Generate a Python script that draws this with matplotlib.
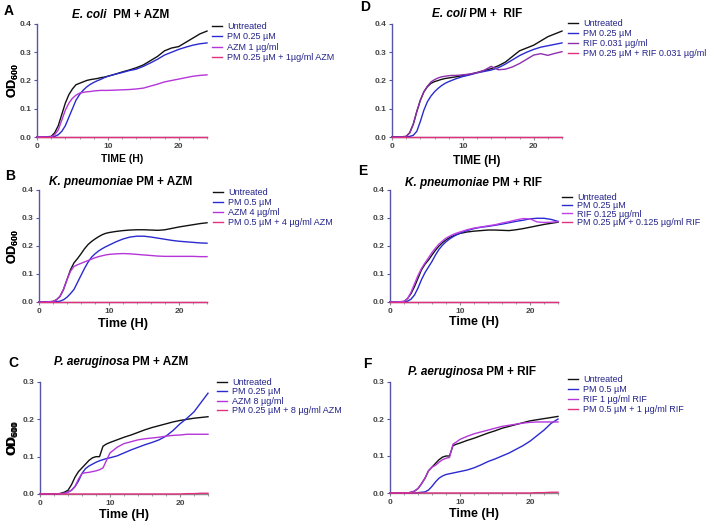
import matplotlib.pyplot as plt
from matplotlib.ticker import MultipleLocator

# ==================== Data ====================
TIME = [0, 1, 2, 2.5, 3, 3.5, 4, 4.5, 5, 5.5, 6, 6.5, 7, 7.5, 8, 8.5, 9, 9.5,
        10, 11, 12, 13, 14, 15, 16, 17, 18, 19, 20, 21, 22, 23, 24]

# A: E. coli PM + AZM
A_UNTREATED = [0, 0, 0.002, 0.015, 0.04, 0.08, 0.12, 0.15, 0.17, 0.185, 0.19, 0.195, 0.2, 0.203, 0.205, 0.207, 0.21,
               0.212, 0.215, 0.222, 0.23, 0.237, 0.245, 0.255, 0.27, 0.285, 0.305, 0.315, 0.32, 0.335, 0.35, 0.365, 0.375]
A_PM = [0, 0, 0, 0.002, 0.008, 0.02, 0.04, 0.07, 0.1, 0.13, 0.15, 0.165, 0.177, 0.186, 0.193, 0.199, 0.204,
        0.21, 0.215, 0.222, 0.228, 0.235, 0.24, 0.25, 0.262, 0.275, 0.29, 0.3, 0.31, 0.318, 0.325, 0.33, 0.333]
A_DRUG = [0, 0, 0, 0.008, 0.025, 0.06, 0.095, 0.12, 0.137, 0.148, 0.155, 0.158, 0.16, 0.161, 0.163, 0.164, 0.165,
          0.165, 0.165, 0.166, 0.167, 0.168, 0.17, 0.173, 0.18, 0.187, 0.195, 0.2, 0.205, 0.21, 0.215, 0.218, 0.22]
A_COMBO = [0, 0, 0, 0, 0, 0, 0, 0, 0, 0, 0, 0, 0, 0, 0, 0, 0,
           0, 0, 0, 0, 0, 0, 0, 0, 0, 0, 0, 0, 0, 0, 0, 0]
A_LABELS = ['Untreated', 'PM 0.25 µM', 'AZM 1 µg/ml', 'PM 0.25 µM + 1µg/ml AZM']

# D: E. coli PM + RIF
D_UNTREATED = [0, 0, 0.002, 0.015, 0.045, 0.09, 0.13, 0.16, 0.178, 0.19, 0.196, 0.2, 0.204, 0.207, 0.209, 0.211, 0.213,
               0.215, 0.218, 0.222, 0.228, 0.235, 0.242, 0.252, 0.265, 0.285, 0.305, 0.315, 0.325, 0.34, 0.355, 0.365, 0.375]
D_PM = [0, 0, 0, 0.002, 0.006, 0.02, 0.055, 0.095, 0.125, 0.145, 0.16, 0.172, 0.182, 0.19, 0.196, 0.201, 0.206,
        0.21, 0.214, 0.22, 0.227, 0.232, 0.237, 0.245, 0.258, 0.273, 0.288, 0.3, 0.31, 0.318, 0.323, 0.328, 0.333]
D_DRUG = [0, 0, 0.002, 0.015, 0.045, 0.09, 0.13, 0.16, 0.18, 0.195, 0.203, 0.209, 0.213, 0.215, 0.217, 0.218, 0.218,
          0.219, 0.22, 0.223, 0.228, 0.236, 0.25, 0.238, 0.24, 0.248, 0.26, 0.275, 0.29, 0.295, 0.289, 0.296, 0.302]
D_COMBO = [0, 0, 0, 0, 0, 0, 0, 0, 0, 0, 0, 0, 0, 0, 0, 0, 0,
           0, 0, 0, 0, 0, 0, 0, 0, 0, 0, 0, 0, 0, 0, 0, 0]
D_LABELS = ['Untreated', 'PM 0.25 µM', 'RIF 0.031 µg/ml', 'PM 0.25 µM + RIF 0.031 µg/ml']

# B: K. pneumoniae PM + AZM
B_UNTREATED = [0, 0, 0.002, 0.008, 0.02, 0.045, 0.08, 0.115, 0.14, 0.155, 0.172, 0.19, 0.205, 0.216, 0.225, 0.233, 0.24,
               0.245, 0.248, 0.252, 0.255, 0.257, 0.258, 0.258, 0.257, 0.256, 0.258, 0.263, 0.268, 0.272, 0.276, 0.28, 0.283]
B_PM = [0, 0, 0, 0.001, 0.003, 0.008, 0.017, 0.03, 0.045, 0.07, 0.095, 0.12, 0.142, 0.16, 0.172, 0.182, 0.19,
        0.197, 0.203, 0.215, 0.225, 0.232, 0.235, 0.235, 0.232, 0.228, 0.224, 0.22, 0.217, 0.215, 0.213, 0.211, 0.21]
B_DRUG = [0, 0, 0.002, 0.008, 0.02, 0.045, 0.08, 0.11, 0.127, 0.133, 0.138, 0.143, 0.148, 0.153, 0.158, 0.162, 0.165,
          0.168, 0.17, 0.172, 0.173, 0.172, 0.17, 0.168, 0.166, 0.164, 0.163, 0.163, 0.163, 0.163, 0.163, 0.162, 0.162]
B_COMBO = [0, 0, 0, 0, 0, 0, 0, 0, 0, 0, 0, 0, 0, 0, 0, 0, 0,
           0, 0, 0, 0, 0, 0, 0, 0, 0, 0, 0, 0, 0, 0, 0, 0]
B_LABELS = ['Untreated', 'PM 0.5 µM', 'AZM 4 µg/ml', 'PM 0.5 µM + 4 µg/ml AZM']

# E: K. pneumoniae PM + RIF
E_UNTREATED = [0, 0, 0.002, 0.012, 0.03, 0.055, 0.085, 0.115, 0.135, 0.15, 0.168, 0.185, 0.2, 0.212, 0.222, 0.23, 0.236,
               0.241, 0.245, 0.25, 0.253, 0.255, 0.257, 0.257, 0.256, 0.255, 0.258, 0.262, 0.267, 0.272, 0.277, 0.281, 0.285]
E_PM = [0, 0, 0, 0.003, 0.01, 0.025, 0.05, 0.08, 0.105, 0.125, 0.145, 0.168, 0.188, 0.203, 0.215, 0.225, 0.233,
        0.24, 0.246, 0.255, 0.262, 0.267, 0.27, 0.274, 0.278, 0.283, 0.288, 0.292, 0.297, 0.299, 0.299, 0.295, 0.288]
E_DRUG = [0, 0, 0.002, 0.012, 0.035, 0.065, 0.095, 0.12, 0.14, 0.158, 0.177, 0.193, 0.207, 0.218, 0.228, 0.235, 0.241,
          0.246, 0.25, 0.258, 0.264, 0.268, 0.272, 0.276, 0.282, 0.287, 0.293, 0.298, 0.297, 0.286, 0.284, 0.285, 0.287]
E_COMBO = [0, 0, 0, 0, 0, 0, 0, 0, 0, 0, 0, 0, 0, 0, 0, 0, 0,
           0, 0, 0, 0, 0, 0, 0, 0, 0, 0, 0, 0, 0, 0, 0, 0]
E_LABELS = ['Untreated', 'PM 0.25 µM', 'RIF 0.125 µg/ml', 'PM 0.25 µM + 0.125 µg/ml RIF']

# C: P. aeruginosa PM + AZM
C_UNTREATED = [0, 0, 0, 0, 0.002, 0.005, 0.01, 0.025, 0.045, 0.06, 0.07, 0.08, 0.09, 0.097, 0.1, 0.1, 0.128,
               0.134, 0.138, 0.145, 0.152, 0.158, 0.165, 0.172, 0.178, 0.183, 0.188, 0.193, 0.197, 0.2, 0.203, 0.205, 0.207]
C_PM = [0, 0, 0, 0, 0.001, 0.002, 0.005, 0.01, 0.02, 0.035, 0.055, 0.068, 0.075, 0.08, 0.085, 0.089, 0.092,
        0.095, 0.097, 0.102, 0.11, 0.118, 0.125, 0.132, 0.138, 0.145, 0.155, 0.17, 0.188, 0.203, 0.22, 0.245, 0.27]
C_DRUG = [0, 0, 0, 0, 0.001, 0.002, 0.005, 0.01, 0.02, 0.04, 0.055, 0.057, 0.058, 0.06, 0.062, 0.065, 0.07,
          0.09, 0.11, 0.125, 0.135, 0.14, 0.145, 0.148, 0.15, 0.152, 0.155, 0.157, 0.158, 0.16, 0.16, 0.16, 0.16]
C_COMBO = [0, 0, 0, 0, 0, 0, 0, 0, 0, 0, 0, 0, 0, 0, 0, 0, 0,
           0, 0, 0, 0, 0, 0, 0, 0, 0, 0, 0, 0, 0.001, 0.001, 0.002, 0.002]
C_LABELS = ['Untreated', 'PM 0.25 µM', 'AZM 8 µg/ml', 'PM 0.25 µM + 8 µg/ml AZM']

# F: P. aeruginosa PM + RIF
F_UNTREATED = [0, 0, 0, 0, 0.002, 0.005, 0.012, 0.025, 0.04, 0.06, 0.07, 0.08, 0.09, 0.097, 0.1, 0.1, 0.128,
               0.132, 0.135, 0.142, 0.148, 0.155, 0.162, 0.168, 0.175, 0.18, 0.185, 0.19, 0.195, 0.198, 0.201, 0.204, 0.207]
F_PM = [0, 0, 0, 0, 0, 0, 0.001, 0.002, 0.003, 0.008, 0.018, 0.03, 0.04, 0.046, 0.05, 0.052, 0.054,
        0.056, 0.058, 0.062, 0.068, 0.076, 0.085, 0.092, 0.1, 0.108, 0.118, 0.128, 0.14, 0.155, 0.17, 0.188, 0.2]
F_DRUG = [0, 0, 0, 0, 0.002, 0.005, 0.012, 0.025, 0.04, 0.06, 0.07, 0.075, 0.083, 0.09, 0.094, 0.096, 0.132,
          0.138, 0.145, 0.153, 0.16, 0.165, 0.17, 0.175, 0.18, 0.183, 0.186, 0.189, 0.191, 0.192, 0.192, 0.192, 0.192]
F_COMBO = [0, 0, 0, 0, 0, 0, 0, 0, 0, 0, 0, 0, 0, 0, 0, 0, 0,
           0, 0, 0, 0, 0, 0, 0, 0, 0, 0, 0, 0, 0.001, 0.001, 0.002, 0.002]
F_LABELS = ['Untreated', 'PM 0.5 µM', 'RIF 1 µg/ml RIF', 'PM 0.5 µM + 1 µg/ml RIF']

# ==================== Style ====================
plt.rcParams['font.family'] = ['Liberation Sans', 'DejaVu Sans']
plt.rcParams['mathtext.fontset'] = 'custom'
plt.rcParams['mathtext.rm'] = 'Liberation Sans'
plt.rcParams['mathtext.bf'] = 'Liberation Sans:bold'

W, H = 708, 525
LINE_COLORS = ['#111111', '#2a2ad0', '#b535d8', '#e0307e']
LEGEND_TEXT = '#23238a'
LEFT_SPINE = '#5555a8'
BOTTOM_SPINE = '#8a8a8a'
TICK_TEXT = '#444444'

fig = plt.figure(figsize=(W / 100, H / 100), dpi=100)


def px_rect(x0, y0, x1, y1):
    return [x0 / W, 1 - y1 / H, (x1 - x0) / W, (y1 - y0) / H]


def draw_panel(rect, ymax, series, labels, letter, letter_xy, species, rest, title_xy,
               xlabel, xlabel_y, xlabel_size, legend_xy, legend_spacing, drug_color):
    ax = fig.add_axes(px_rect(*rect))
    colors = [LINE_COLORS[0], LINE_COLORS[1], drug_color, LINE_COLORS[3]]
    for ys, lab, col in zip(series, labels, colors):
        ax.plot(TIME, ys, color=col, lw=1.0, label=lab, clip_on=False, zorder=3)

    ax.set_xlim(0, 24)
    ax.set_ylim(0, ymax)
    ax.xaxis.set_major_locator(MultipleLocator(10))
    ax.xaxis.set_minor_locator(MultipleLocator(2))
    ax.yaxis.set_major_locator(MultipleLocator(0.1))
    ax.yaxis.set_major_formatter(plt.FormatStrFormatter('%.1f'))
    for s in ['top', 'right']:
        ax.spines[s].set_visible(False)
    ax.spines['left'].set_color(LEFT_SPINE)
    ax.spines['bottom'].set_color(BOTTOM_SPINE)
    ax.spines['left'].set_linewidth(1.0)
    ax.spines['bottom'].set_linewidth(1.0)
    ax.tick_params(axis='y', which='major', length=2.5, width=0.8, color=LEFT_SPINE, pad=1.5,
                   labelsize=6, labelcolor=TICK_TEXT)
    ax.tick_params(axis='x', which='major', length=2.5, width=0.8, color=BOTTOM_SPINE, pad=1.5,
                   labelsize=6, labelcolor=TICK_TEXT)
    ax.tick_params(axis='x', which='minor', length=1.5, width=0.6, color=BOTTOM_SPINE)
    for t in ax.get_xticklabels() + ax.get_yticklabels():
        t.set_fontweight('bold')

    # legend, right of the axes
    leg = ax.legend(loc='upper left', bbox_to_anchor=(legend_xy[0] / W, 1 - legend_xy[1] / H),
                    bbox_transform=fig.transFigure, frameon=False, fontsize=6.5,
                    handlelength=1.1, handletextpad=0.55, borderpad=0, borderaxespad=0,
                    labelspacing=legend_spacing)
    for t in leg.get_texts():
        t.set_color(LEGEND_TEXT)

    # panel letter
    fig.text(letter_xy[0] / W, 1 - letter_xy[1] / H, letter, fontsize=10, fontweight='bold',
             va='baseline', ha='left')

    # title: italic species followed by bold treatment
    t1 = fig.text(title_xy[0] / W, 1 - title_xy[1] / H, species, fontsize=8.5, fontweight='bold',
                  style='italic', va='baseline', ha='left')
    ax.annotate(rest, xy=(1, 0), xycoords=t1, xytext=(0, 0), textcoords='offset points',
                fontsize=8.5, fontweight='bold', va='bottom', ha='left')

    # axis labels
    mid_y = (rect[1] + rect[3]) / 2
    fig.text(13 / W, 1 - mid_y / H, r'OD$_{\mathbf{600}}$', fontsize=9, fontweight='bold',
             rotation=90, va='center', ha='center')
    mid_x = (rect[0] + rect[2]) / 2
    fig.text(mid_x / W, 1 - xlabel_y / H, xlabel, fontsize=xlabel_size, fontweight='bold',
             va='baseline', ha='center')
    return ax


# ==================== Panels ====================
draw_panel((37, 24, 207, 137), 0.4, [A_UNTREATED, A_PM, A_DRUG, A_COMBO], A_LABELS,
           'A', (4, 15), 'E. coli ', ' PM + AZM', (72, 18), 'TIME (H)', 162, 7.5,
           (212, 22), 0.15, '#b535d8')
draw_panel((392, 24, 562, 137), 0.4, [D_UNTREATED, D_PM, D_DRUG, D_COMBO], D_LABELS,
           'D', (360, 11), 'E. coli', ' PM +  RIF', (432, 17), 'TIME (H)', 164, 8.5,
           (568, 19), 0.1, '#8e2fae')
draw_panel((39, 190, 207, 302), 0.4, [B_UNTREATED, B_PM, B_DRUG, B_COMBO], B_LABELS,
           'B', (5, 180), 'K. pneumoniae', ' PM + AZM', (49, 185), 'Time (H)', 327, 9,
           (213, 188), 0.1, '#b535d8')
draw_panel((390, 190, 558, 302), 0.4, [E_UNTREATED, E_PM, E_DRUG, E_COMBO], E_LABELS,
           'E', (358, 175), 'K. pneumoniae', ' PM + RIF', (405, 186), 'Time (H)', 325, 9,
           (562, 193), -0.08, '#c040e8')
draw_panel((40, 382, 208, 494), 0.3, [C_UNTREATED, C_PM, C_DRUG, C_COMBO], C_LABELS,
           'C', (8, 367), 'P. aeruginosa', ' PM + AZM', (54, 365), 'Time (H)', 518, 9,
           (217, 378), 0.05, '#b535d8')
draw_panel((390, 382, 558, 493), 0.3, [F_UNTREATED, F_PM, F_DRUG, F_COMBO], F_LABELS,
           'F', (363, 368), 'P. aeruginosa', ' PM + RIF', (408, 375), 'Time (H)', 517, 9,
           (568, 375), 0.1, '#b535d8')

fig.savefig('out.png', dpi=100)
